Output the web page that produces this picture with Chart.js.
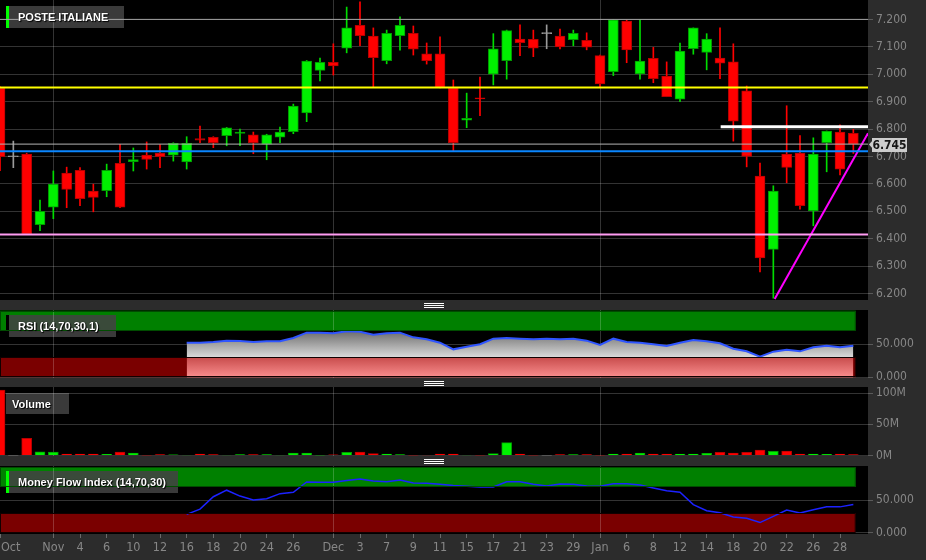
<!DOCTYPE html>
<html><head><meta charset="utf-8">
<script src="https://cdn.jsdelivr.net/npm/chart.js@4.4.1/dist/chart.umd.min.js"></script>
<style>
html,body{margin:0;padding:0;background:#2c2c2c;width:926px;height:560px;overflow:hidden;}
#wrap{position:relative;width:926px;height:560px;}
canvas{position:absolute;left:0;}
.lbl{position:absolute;color:#fff;font:bold 11px 'Liberation Sans',Arial,sans-serif;text-shadow:1px 1px 1px #000,0 0 1px #000;white-space:nowrap;line-height:22px;height:22px;z-index:10;}
.grip{position:absolute;left:424px;width:20px;height:1px;background:#fff;z-index:10;}
</style></head><body><div id="wrap">
<canvas id="cMain" width="926" height="310" style="top:0px"></canvas>
<canvas id="cRsi" width="926" height="88" style="top:300px"></canvas>
<canvas id="cVol" width="926" height="89" style="top:377px"></canvas>
<canvas id="cMfi" width="926" height="104" style="top:456px"></canvas>
<div class="lbl" style="left:18px;top:6px;">POSTE ITALIANE</div>
<div class="lbl" style="left:18px;top:315px;">RSI (14,70,30,1)</div>
<div class="lbl" style="left:12px;top:393px;">Volume</div>
<div class="lbl" style="left:18px;top:471px;">Money Flow Index (14,70,30)</div>
<div class="grip" style="top:303px"></div><div class="grip" style="top:305px"></div><div class="grip" style="top:307px"></div>
<div class="grip" style="top:381px"></div><div class="grip" style="top:383px"></div><div class="grip" style="top:385px"></div>
<div class="grip" style="top:459px"></div><div class="grip" style="top:461px"></div><div class="grip" style="top:463px"></div>
</div>
<script>
// ---------------- data ----------------
const tickLabels = ['Oct','','','','Nov','','4','','6','','10','','12','','16','','18','','20','','24','','26','','','Dec','','3','','7','','9','','11','','15','','17','','21','','23','','29','','Jan','','6','','8','','12','','14','','18','','20','','22','','26','','28',''];
const open  = [6.949,6.699,6.709,6.451,6.515,6.639,6.649,6.574,6.575,6.675,6.681,6.705,6.712,6.705,6.680,6.765,6.770,6.776,6.784,6.779,6.745,6.770,6.790,6.859,7.014,7.043,7.095,7.178,7.139,7.049,7.141,7.149,7.074,7.074,6.949,6.832,6.913,7.000,7.049,7.128,7.127,7.148,7.139,7.126,7.124,7.068,7.009,7.194,7.001,7.058,6.993,6.909,7.093,7.080,7.059,7.045,6.939,6.628,6.361,6.709,6.712,6.501,6.750,6.789,6.784];
const high  = [6.955,6.756,6.712,6.541,6.647,6.661,6.659,6.599,6.672,6.744,6.731,6.753,6.743,6.750,6.772,6.811,6.772,6.806,6.800,6.789,6.781,6.807,6.891,7.050,7.059,7.111,7.245,7.264,7.169,7.161,7.209,7.176,7.114,7.136,6.979,6.931,6.990,7.148,7.161,7.180,7.161,7.180,7.165,7.161,7.151,7.070,7.200,7.198,7.198,7.098,7.045,7.114,7.169,7.148,7.169,7.111,6.957,6.676,6.593,6.885,6.776,6.768,6.793,6.815,6.799];
const low   = [6.648,6.659,6.415,6.429,6.473,6.513,6.520,6.498,6.553,6.513,6.647,6.654,6.659,6.683,6.654,6.750,6.732,6.739,6.739,6.710,6.688,6.750,6.783,6.827,6.976,6.997,7.078,7.104,6.953,7.038,7.088,7.070,7.037,6.950,6.720,6.805,6.849,6.961,6.982,7.068,7.064,7.093,7.092,7.104,7.089,6.951,6.995,7.042,6.982,6.969,6.918,6.900,7.073,7.016,6.984,6.756,6.662,6.279,6.183,6.604,6.508,6.447,6.644,6.633,6.711];
const close = [6.699,6.699,6.417,6.500,6.599,6.580,6.546,6.551,6.649,6.515,6.689,6.689,6.699,6.748,6.748,6.759,6.750,6.804,6.789,6.750,6.779,6.789,6.884,7.048,7.043,7.030,7.169,7.141,7.060,7.149,7.178,7.091,7.049,6.951,6.750,6.839,6.910,7.093,7.159,7.115,7.095,7.148,7.100,7.149,7.099,6.965,7.198,7.089,7.048,6.984,6.918,7.084,7.169,7.128,7.040,6.829,6.700,6.330,6.574,6.660,6.520,6.709,6.793,6.654,6.745];
const volumeM = [105,0.3,27.4,5.9,5.4,2.2,2.2,2.2,1.6,5.4,3.8,0.3,1.1,1,0.8,2.2,1.1,0.8,1.1,1.1,1.1,0.8,3.8,3.8,0.3,1,4.8,5.4,2.7,2.2,1.1,0.3,0.8,2.2,2.2,0.8,0.3,2.7,20.4,2.2,0.3,0.3,1.1,1.1,1.1,0.3,2.2,2.2,3.8,2.2,2.2,2.2,2.2,3.2,4.8,3.8,4.8,8.6,6.5,7,2.2,2.2,1.6,2.2,1.1];
const rsi = [null,null,null,null,null,null,null,null,null,null,null,null,null,null,
  52,52,53,55,54.5,53,54,54,59,67,67,66,69,68.5,64,66,67,60,57,52,42,46,49.6,58,59,58,57,58,57,58,55,48.6,58,53,52,49.6,47,52,56,54,51,43,39,31,38.5,41.5,39,45,47.5,45,47.5];
const mfi = [null,null,null,null,null,null,null,null,null,null,null,null,null,null,
  28,36,55,65,56,50,52,59.7,61.7,77.5,77,77,80,82,79,78,80.5,76,75.5,74,72,71,70,70,78,78,74,71.5,74.5,74,71.5,71,75,75,73,68.5,64,62,43,33.5,30.5,24,22,15.5,25,34.5,30,35,39.5,39.5,43];
const priceTicks = [6.2,6.3,6.4,6.5,6.6,6.7,6.8,6.9,7.0,7.1,7.2];
const oscTicks = [0,50];
const volTicks = [0,50,100];
const oscLevels = [30,70];         // lower / upper band levels
const resistanceLevel = 6.952;     // yellow
const supportLevel = 6.415;        // pink
const blueLevel = 6.719;           // blue
const topLevel = 7.2;              // light gray
const whiteLevel = 6.808;          // white segment
const whiteStart = 54.05;          // candle index where white segment starts
const trendLine = [{x:58.1, y:6.18},{x:65.1, y:6.785}];

// ---------------- helpers ----------------
const FONT = "'Liberation Sans Narrow','DejaVu Sans Condensed','Liberation Sans',Arial,sans-serif";
const GRID = 'rgba(255,255,255,0.2)';
const AXIS_TXT = '#878787';
const X_MAX = 65.1;
const BAND_END = 64.18;
const idx = close.map((_, i) => i);
const monthIdx = tickLabels.map((t,i)=> (t && isNaN(+t) && i>0) ? i : -1).filter(i=>i>=0);
const labelIdx = tickLabels.map((t,i)=> t ? i : -1).filter(i=>i>=0);
const dir = i => close[i] > open[i] ? 'up' : (close[i] < open[i] ? 'down' : 'flat');
const COL = {
  up:   {fill:'#00f000', edge:'#009c00', wick:'#00dc00'},
  down: {fill:'#ff0000', edge:'#b80000', wick:'#ff0000'},
  flat: {fill:'#9a9a9a', edge:'#9a9a9a', wick:'#9a9a9a'}
};

Chart.defaults.font.family = FONT;

function xAxis(showLabels) {
  return {
    type:'linear', min:0, max:X_MAX, position:'bottom', offset:false,
    afterBuildTicks: s => { s.ticks = (showLabels ? labelIdx : monthIdx).map(v => ({value:v})); },
    afterFit: s => { s.paddingLeft = 0; s.paddingRight = 0; s.height = showLabels ? 26 : 0; },
    grid: {
      offset:false,
      color: c => (c.tick && monthIdx.includes(c.tick.value)) ? GRID : 'rgba(0,0,0,0)',
      tickColor:'#6a6a6a', drawTicks:showLabels, tickLength:4
    },
    border:{display:false},
    ticks:{display:showLabels, autoSkip:false, maxRotation:0, minRotation:0, padding:2, color:AXIS_TXT,
      font:{family:FONT, size:12.5},
      callback: v => v === 0 ? '      ' + tickLabels[0] : tickLabels[v]}
  };
}
function yAxis(min, max, ticks, fmt) {
  return {
    type:'linear', position:'right', min, max,
    afterBuildTicks: s => { s.ticks = ticks.map(v => ({value:v})); },
    afterFit: s => { s.width = 58; s.paddingTop = 0; s.paddingBottom = 0; },
    grid:{color:GRID, tickColor:'#5a5a5a', tickLength:5, drawTicks:true},
    border:{display:false},
    ticks:{color:AXIS_TXT, padding:3, font:{family:FONT, size:12}, callback:fmt}
  };
}

const panelPlugin = {
  id:'panel',
  beforeDraw(chart, args, o) {
    const {ctx, chartArea:a, scales} = chart;
    ctx.save();
    ctx.fillStyle = '#000';
    ctx.fillRect(a.left, a.top, a.right - a.left, a.bottom - a.top);
    if (o.bands) {
      const xe = scales.x.getPixelForValue(BAND_END);
      o.bands.forEach(b => {
        const yT = scales.y.getPixelForValue(b.to), yB = scales.y.getPixelForValue(b.from);
        ctx.fillStyle = b.color;
        ctx.fillRect(a.left, yT, xe - a.left, yB - yT);
      });
    }
    if (o.boxes) {
      o.boxes.forEach(b => { ctx.fillStyle = b.color; ctx.fillRect(b.x, b.y, b.w, b.h); });
    }
    ctx.restore();
  },
  afterDatasetsDraw(chart, args, o) {
    if (!o.bands) return;
    const {ctx, chartArea:a, scales} = chart;
    const xe = scales.x.getPixelForValue(BAND_END);
    ctx.save();
    o.bands.forEach(b => {
      const yT = scales.y.getPixelForValue(b.to), yB = scales.y.getPixelForValue(b.from);
      ctx.strokeStyle = b.edge; ctx.lineWidth = 1;
      ctx.strokeRect(a.left + 0.5, Math.round(yT) + 0.5, xe - a.left - 1, Math.round(yB - yT) - 1);
    });
    ctx.restore();
  },
  afterDraw(chart, args, o) {
    if (!o.tag) return;
    const {ctx, scales, chartArea:a} = chart;
    const v = close[close.length - 1];
    const y = Math.round(scales.y.getPixelForValue(v));
    ctx.save();
    ctx.fillStyle = '#cdcdcd';
    ctx.beginPath();
    ctx.moveTo(a.right + 1, y + 0.5);
    ctx.lineTo(a.right + 5, y - 4);
    ctx.lineTo(a.right + 5, y + 5);
    ctx.closePath(); ctx.fill();
    ctx.fillRect(a.right + 4, y - 6, 35, 14);
    ctx.fillStyle = '#151515';
    ctx.font = "bold 12px " + FONT;
    ctx.textAlign = 'center'; ctx.textBaseline = 'middle';
    ctx.fillText(v.toFixed(3), a.right + 21.5, y + 1.5);
    ctx.restore();
  }
};

const common = {
  responsive:false, animation:false, events:[], devicePixelRatio:1,
};
const hLine = (val, color, width, from) => ({
  type:'line', data:[{x:from ?? 0, y:val},{x:X_MAX, y:val}],
  borderColor:color, borderWidth:width, pointRadius:0, fill:false, order:0, clip:0
});

// ---------------- main price chart ----------------
new Chart(document.getElementById('cMain'), {
  type:'bar',
  data:{datasets:[
    hLine(topLevel, '#a2a2a2', 1),
    hLine(close[close.length-1], '#b4b4b4', 1),
    hLine(resistanceLevel, '#ffff00', 2),
    hLine(blueLevel, '#0a86ff', 2),
    hLine(supportLevel, '#ff9cf2', 2),
    hLine(whiteLevel, '#ffffff', 3, whiteStart),
    {type:'line', data:trendLine, borderColor:'#ff00ff', borderWidth:2, pointRadius:0, fill:false, order:0, clip:0},
    {type:'bar', data:idx.map(i => ({x:i, y:[open[i], close[i]]})),
      backgroundColor:idx.map(i => COL[dir(i)].fill), borderColor:idx.map(i => COL[dir(i)].edge),
      borderWidth:1, borderSkipped:false, barThickness:10, minBarLength:1, grouped:false, order:1, clip:0},
    {type:'bar', data:idx.map(i => ({x:i, y:[low[i], high[i]]})),
      backgroundColor:idx.map(i => COL[dir(i)].wick), borderWidth:0, barThickness:1, grouped:false, order:2, clip:0}
  ]},
  options:{...common,
    layout:{padding:{top:0, bottom:10, left:0, right:0}},
    scales:{ x:xAxis(false), y:yAxis(6.1763, 7.2708, priceTicks, v => v.toFixed(3)) },
    plugins:{legend:{display:false}, tooltip:{enabled:false},
      panel:{tag:true, boxes:[{x:6,y:6,w:3,h:22,color:'#00ff00'},{x:9,y:6,w:115,h:22,color:'rgba(66,66,66,0.88)'}]}}
  },
  plugins:[panelPlugin]
});

// ---------------- RSI ----------------
new Chart(document.getElementById('cRsi'), {
  type:'line',
  data:{datasets:[{
    data:idx.filter(i => rsi[i] !== null).map(i => ({x:i, y:rsi[i]})),
    borderColor:'#2f55ff', borderWidth:2, pointRadius:0, tension:0, clip:0,
    fill:{value:0},
    backgroundColor: c => {
      const ch = c.chart; if (!ch.chartArea) return 'rgba(0,0,0,0)';
      const y = ch.scales.y;
      const top = y.getPixelForValue(oscLevels[1]), mid = y.getPixelForValue(oscLevels[0]), bot = y.getPixelForValue(0);
      const g = ch.ctx.createLinearGradient(0, top, 0, bot);
      const f = (mid - top) / (bot - top);
      g.addColorStop(0, '#6a6a6a'); g.addColorStop(f, '#dadada');
      g.addColorStop(f, '#c84c4c'); g.addColorStop(1, '#fa8e8e');
      return g;
    }
  }]},
  options:{...common,
    layout:{padding:{top:10, bottom:10, left:0, right:0}},
    scales:{ x:xAxis(false), y:yAxis(-1, 101, oscTicks, v => v.toFixed(3)) },
    plugins:{legend:{display:false}, tooltip:{enabled:false},
      panel:{bands:[{from:oscLevels[1], to:100, color:'#008000', edge:'#004c00'},{from:0, to:oscLevels[0], color:'#7a0000', edge:'#120000'}],
        boxes:[{x:6,y:15,w:3,h:22,color:'#000'},{x:9,y:15,w:107,h:22,color:'rgba(66,66,66,0.88)'}]}}
  },
  plugins:[panelPlugin]
});

// ---------------- Volume ----------------
new Chart(document.getElementById('cVol'), {
  type:'bar',
  data:{datasets:[{
    data:idx.map(i => ({x:i, y:volumeM[i]})),
    backgroundColor:idx.map(i => COL[dir(i)].fill), borderColor:idx.map(i => COL[dir(i)].edge),
    borderWidth:1, borderSkipped:'start', barThickness:10, grouped:false, clip:0
  }]},
  options:{...common,
    layout:{padding:{top:10, bottom:10, left:0, right:0}},
    scales:{ x:xAxis(false), y:yAxis(-1, 110, volTicks, v => v + 'M') },
    plugins:{legend:{display:false}, tooltip:{enabled:false},
      panel:{boxes:[{x:6,y:16,w:63,h:21,color:'rgba(66,66,66,0.88)'}]}}
  },
  plugins:[panelPlugin]
});

// ---------------- MFI ----------------
new Chart(document.getElementById('cMfi'), {
  type:'line',
  data:{datasets:[{
    data:idx.filter(i => mfi[i] !== null).map(i => ({x:i, y:mfi[i]})),
    borderColor:'#1c22ff', borderWidth:1.5, pointRadius:0, tension:0, fill:false, clip:0
  }]},
  options:{...common,
    layout:{padding:{top:10, bottom:0, left:0, right:0}},
    scales:{ x:xAxis(true), y:yAxis(-2, 102, oscTicks, v => v.toFixed(3)) },
    plugins:{legend:{display:false}, tooltip:{enabled:false},
      panel:{bands:[{from:oscLevels[1], to:100, color:'#008000', edge:'#004c00'},{from:0, to:oscLevels[0], color:'#7a0000', edge:'#120000'}],
        boxes:[{x:6,y:15,w:3,h:22,color:'#00ff00'},{x:9,y:15,w:169,h:22,color:'rgba(66,66,66,0.88)'}]}}
  },
  plugins:[panelPlugin]
});
</script>
</body></html>
